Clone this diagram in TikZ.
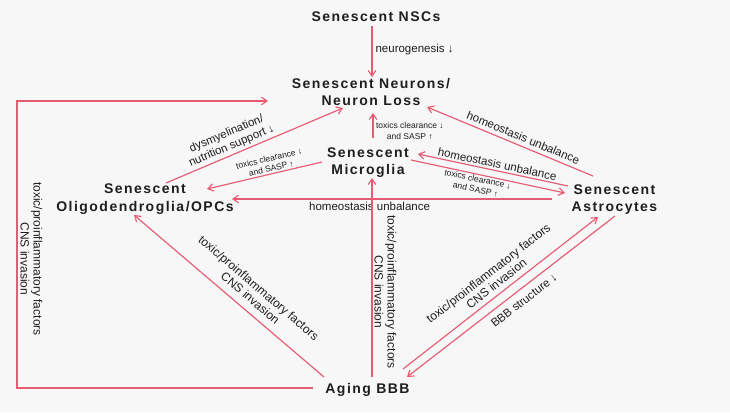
\documentclass[tikz,border=0pt]{standalone}
\usepackage{fontspec}
\setmainfont{Liberation Sans}
\newfontfamily\ttlfont[LetterSpace=10.5]{Liberation Sans}
\usetikzlibrary{arrows.meta,calc}
\definecolor{arrc}{HTML}{E65A72}
\definecolor{bgc}{HTML}{F7F7F7}
\definecolor{txtc}{HTML}{1E1E1E}
\begin{document}
\begin{tikzpicture}[x=1pt,y=-1pt,
  ttl/.style={font=\ttlfont\bfseries\fontsize{14}{17.5}\selectfont, text=txtc, align=center, inner sep=0pt},
  lab/.style={font=\fontsize{11.5}{13}\selectfont, text=txtc, inner sep=1.5pt, align=center},
  tox/.style={font=\fontsize{12}{13}\selectfont, text=txtc, inner sep=1.5pt, align=center},
  sml/.style={font=\fontsize{8.5}{10.3}\selectfont, text=txtc, inner sep=0.5pt, align=center},
  arr/.style={draw=arrc, line width=1.15pt, -{Straight Barb[length=5.5pt,width=7.5pt]}}]
\fill[bgc] (0,0) rectangle (730,412);
\useasboundingbox (0,0) rectangle (730,412);

\node[ttl] (nsc) at (376,17) {Senescent NSCs};
\node[ttl] (neu) at (371,92) {Senescent Neurons/\\Neuron Loss};
\node[ttl] (mic) at (368,162.5) {Senescent\\Microglia};
\node[ttl] (oli) at (145,199) {Senescent\\Oligodendroglia/OPCs};
\node[ttl] (ast) at (614.5,199.5) {Senescent\\Astrocytes};
\node[ttl] (bbb) at (367.5,389.5) {Aging BBB};

% NSCs -> Neurons
\draw[arr] ($(nsc)+(-4,9)$) -- node[lab, anchor=west, xshift=1.5pt, pos=.47]{neurogenesis ↓} ($(neu)+(1,-15)$);
% loop BBB -> Neurons
\draw[arr] ($(bbb)+(-54.5,-1.5)$) -- ++(-296,0) |- ($(neu)+(-103,9)$);
\node[tox, rotate=-90] (l2) at (31.5,259) {toxic/proinflammatory factors\\CNS invasion};
% Oligo -> Neurons
\draw[arr] ($(oli)+(21,-16)$) -- node[lab, sloped, above=1pt, pos=.39]{dysmyelination/\\nutrition support ↓} ($(neu)+(-28,16)$);
% Microglia -> Oligo
\draw[arr] ($(mic)+(-46,-0.5)$) -- node[sml, sloped, above=1pt, pos=.43]{toxics clearance ↓\\and SASP ↑} ($(oli)+(62,-10)$);
% Microglia -> Neurons
\draw[arr] ($(mic)+(5,-24.5)$) -- node[sml, anchor=west, xshift=2pt, pos=.28]{toxics clearance ↓\\and SASP ↑} ($(neu)+(2,21)$);
% Astro -> Neurons
\draw[arr] ($(ast)+(-21.5,-23.5)$) -- node[lab, sloped, above=2.5pt, pos=.44]{homeostasis unbalance} ($(neu)+(56,15)$);
% Astro -> Microglia
\draw[arr] ($(ast)+(-46.5,-13.5)$) -- node[lab, sloped, above=0.5pt, pos=.48]{homeostasis unbalance} ($(mic)+(50,-8.5)$);
% Microglia -> Astro
\draw[arr] ($(mic)+(43,-2.5)$) -- node[sml, sloped, below=0.5pt, pos=.44]{toxics clearance ↓\\and SASP ↑} ($(ast)+(-49.5,-6.5)$);
% Astro -> Oligo
\draw[arr] ($(ast)+(-62.5,-0.5)$) -- node[lab, below=1.5pt, pos=.57]{homeostasis unbalance} ($(oli)+(87,0)$);
% BBB -> Oligo
\draw[arr] ($(bbb)+(-43.5,-12.5)$) -- node[tox, sloped, above=6pt, pos=.43]{toxic/proinflammatory factors\\CNS invasion} ($(oli)+(-11,16)$);
% BBB -> Microglia
\draw[arr] ($(bbb)+(4.5,-12.5)$) -- ($(mic)+(4,15.5)$);
\node[tox, rotate=-90] (l11) at (385.5,292) {toxic/proinflammatory factors\\CNS invasion};
% BBB -> Astro
\draw[arr] ($(bbb)+(35.5,-20.5)$) -- node[tox, sloped, above=3.5pt, pos=.51]{toxic/proinflammatory factors\\CNS invasion} ($(ast)+(-16.5,17.5)$);
% Astro -> BBB
\draw[arr] ($(ast)+(0.5,16.5)$) -- node[lab, sloped, below=5pt, pos=.47]{BBB structure ↓} ($(bbb)+(39.5,-12.5)$);
\end{tikzpicture}
\end{document}
